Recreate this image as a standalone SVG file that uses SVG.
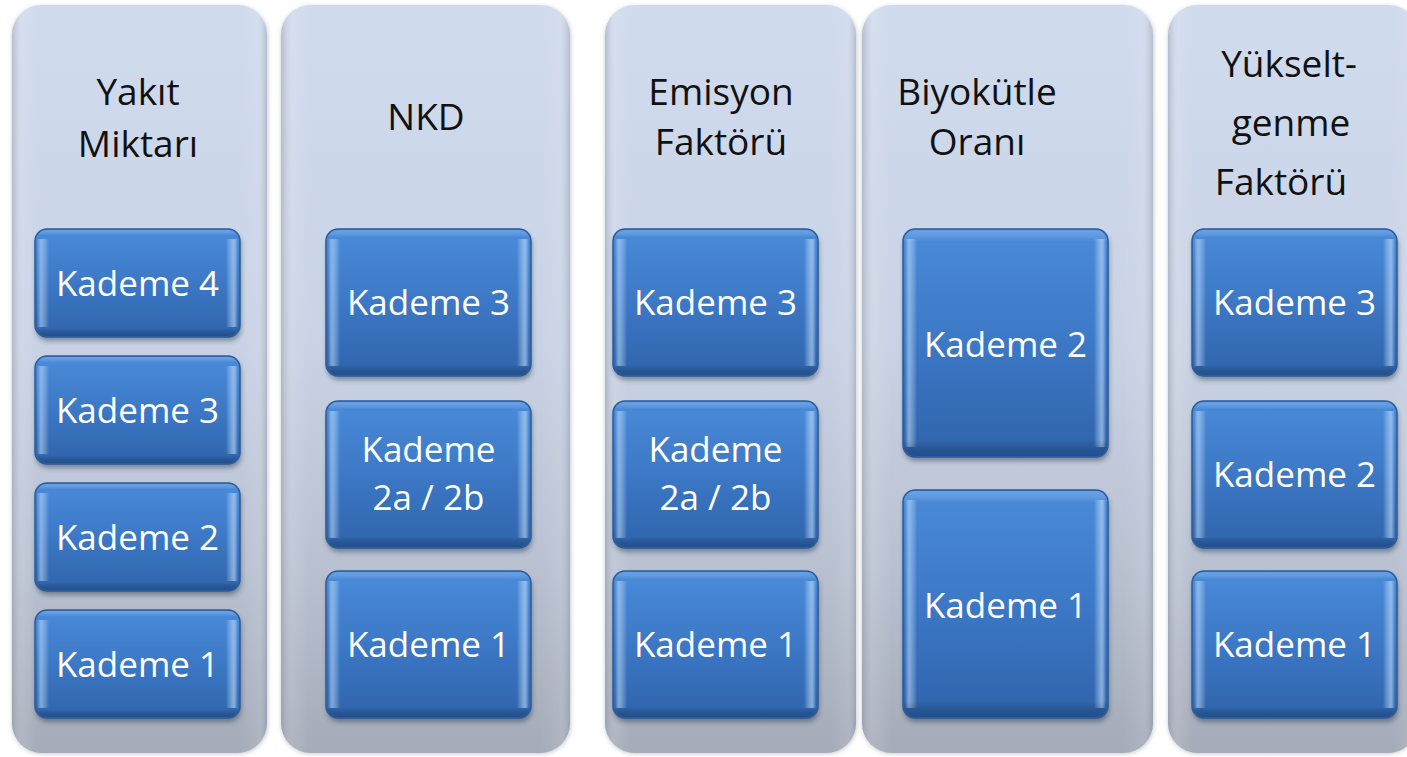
<svg xmlns="http://www.w3.org/2000/svg" width="1407" height="757" viewBox="0 0 1407 757">
  <defs>
    <!-- column panel fill: pale blue at top fading to grey -->
    <linearGradient id="panelFill" x1="0" y1="0" x2="0" y2="1">
      <stop offset="0" stop-color="#d0dbee"/>
      <stop offset="0.45" stop-color="#c9d3e5"/>
      <stop offset="0.75" stop-color="#b9c1d1"/>
      <stop offset="1" stop-color="#a5abb8"/>
    </linearGradient>
    <linearGradient id="panelEdge" x1="0" y1="0" x2="1" y2="0">
      <stop offset="0" stop-color="#7f8796" stop-opacity="0.35"/>
      <stop offset="0.04" stop-color="#ffffff" stop-opacity="0.12"/>
      <stop offset="0.1" stop-color="#ffffff" stop-opacity="0"/>
      <stop offset="0.9" stop-color="#ffffff" stop-opacity="0"/>
      <stop offset="0.96" stop-color="#ffffff" stop-opacity="0.08"/>
      <stop offset="1" stop-color="#7f8796" stop-opacity="0.35"/>
    </linearGradient>
    <!-- glossy blue tile -->
    <linearGradient id="tileFill" x1="0" y1="0" x2="0" y2="1">
      <stop offset="0" stop-color="#4a8bd9"/>
      <stop offset="0.5" stop-color="#3c78c6"/>
      <stop offset="1" stop-color="#2f64ab"/>
    </linearGradient>
    <linearGradient id="tileGloss" x1="0" y1="0" x2="1" y2="0">
      <stop offset="0" stop-color="#ffffff" stop-opacity="0"/>
      <stop offset="0.02" stop-color="#bfe0ff" stop-opacity="0.55"/>
      <stop offset="0.06" stop-color="#ffffff" stop-opacity="0"/>
      <stop offset="0.94" stop-color="#ffffff" stop-opacity="0"/>
      <stop offset="0.98" stop-color="#bfe0ff" stop-opacity="0.6"/>
      <stop offset="1" stop-color="#ffffff" stop-opacity="0"/>
    </linearGradient>
    <linearGradient id="tileShade" x1="0" y1="0" x2="0" y2="1">
      <stop offset="0" stop-color="#9cc7ff" stop-opacity="0.35"/>
      <stop offset="0.05" stop-color="#ffffff" stop-opacity="0"/>
      <stop offset="0.93" stop-color="#000000" stop-opacity="0"/>
      <stop offset="1" stop-color="#0b2a55" stop-opacity="0.35"/>
    </linearGradient>
    <filter id="soft" x="-10%" y="-10%" width="120%" height="120%">
      <feGaussianBlur stdDeviation="2.5"/>
    </filter>
    <filter id="panelShadow" x="-10%" y="-5%" width="120%" height="110%">
      <feGaussianBlur stdDeviation="2"/>
    </filter>
    <style>
      .panel { fill: url(#panelFill); }
      .panelEdge { fill: url(#panelEdge); }
      .pshadow { fill: #8a909c; opacity: 0.45; filter: url(#panelShadow); }
      .tile { fill: url(#tileFill); stroke: #2c5b98; stroke-width: 1.5; }
      .gloss { fill: url(#tileGloss); }
      .shade { fill: url(#tileShade); }
      .tshadow { fill: #1e3046; opacity: 0.45; filter: url(#soft); }
      .head { font-family: "Open Sans", "Noto Sans", sans-serif; font-size: 37px; fill: #111111; text-anchor: middle; }
      .lbl { font-family: "Open Sans", "Noto Sans", sans-serif; font-size: 35px; fill: #ffffff; text-anchor: middle; }
    </style>
    <!-- one reusable tile shape per size -->
    <g id="tileS">
      <rect class="tshadow" x="1" y="4" width="205" height="108" rx="12"/>
      <rect class="tile" x="0" y="0" width="205" height="108" rx="12"/>
      <rect class="gloss" x="2" y="10" width="201" height="88"/>
      <rect class="shade" x="1" y="1" width="203" height="106" rx="11"/>
    </g>
    <g id="tileM">
      <rect class="tshadow" x="1" y="4" width="205" height="147" rx="12"/>
      <rect class="tile" x="0" y="0" width="205" height="147" rx="12"/>
      <rect class="gloss" x="2" y="10" width="201" height="127"/>
      <rect class="shade" x="1" y="1" width="203" height="145" rx="11"/>
    </g>
    <g id="tileL">
      <rect class="tshadow" x="1" y="4" width="205" height="228" rx="12"/>
      <rect class="tile" x="0" y="0" width="205" height="228" rx="12"/>
      <rect class="gloss" x="2" y="10" width="201" height="208"/>
      <rect class="shade" x="1" y="1" width="203" height="226" rx="11"/>
    </g>
  </defs>

  <rect width="1407" height="757" fill="#ffffff"/>

  <!-- column 1: Yakıt Miktarı -->
  <g id="col-yakit">
    <rect class="pshadow" x="12" y="6" width="256" height="748" rx="30"/>
    <rect class="panel" x="12" y="5" width="255" height="748" rx="30"/>
    <rect class="panelEdge" x="12" y="5" width="255" height="748" rx="30"/>
    <text class="head" x="138" y="105">Yakıt</text>
    <text class="head" x="138" y="157">Miktarı</text>
  </g>
  <g id="yakit-k4"><use href="#tileS" x="35" y="229"/><text class="lbl" x="137.5" y="296">Kademe 4</text></g>
  <g id="yakit-k3"><use href="#tileS" x="35" y="356"/><text class="lbl" x="137.5" y="423">Kademe 3</text></g>
  <g id="yakit-k2"><use href="#tileS" x="35" y="483"/><text class="lbl" x="137.5" y="550">Kademe 2</text></g>
  <g id="yakit-k1"><use href="#tileS" x="35" y="610"/><text class="lbl" x="137.5" y="677">Kademe 1</text></g>

  <!-- column 2: NKD -->
  <g id="col-nkd">
    <rect class="pshadow" x="281" y="6" width="290" height="748" rx="30"/>
    <rect class="panel" x="281" y="5" width="289" height="748" rx="30"/>
    <rect class="panelEdge" x="281" y="5" width="289" height="748" rx="30"/>
    <text class="head" x="426" y="130">NKD</text>
  </g>
  <g id="nkd-k3"><use href="#tileM" x="326" y="229"/><text class="lbl" x="428.5" y="315">Kademe 3</text></g>
  <g id="nkd-k2"><use href="#tileM" x="326" y="401"/><text class="lbl" x="428.5" y="462">Kademe</text><text class="lbl" x="428.5" y="510">2a / 2b</text></g>
  <g id="nkd-k1"><use href="#tileM" x="326" y="571"/><text class="lbl" x="428.5" y="657">Kademe 1</text></g>

  <!-- column 3: Emisyon Faktörü -->
  <g id="col-emisyon">
    <rect class="pshadow" x="605" y="6" width="252" height="748" rx="30"/>
    <rect class="panel" x="605" y="5" width="251" height="748" rx="30"/>
    <rect class="panelEdge" x="605" y="5" width="251" height="748" rx="30"/>
    <text class="head" x="721" y="105">Emisyon</text>
    <text class="head" x="721" y="155">Faktörü</text>
  </g>
  <g id="emisyon-k3"><use href="#tileM" x="613" y="229"/><text class="lbl" x="715.5" y="315">Kademe 3</text></g>
  <g id="emisyon-k2"><use href="#tileM" x="613" y="401"/><text class="lbl" x="715.5" y="462">Kademe</text><text class="lbl" x="715.5" y="510">2a / 2b</text></g>
  <g id="emisyon-k1"><use href="#tileM" x="613" y="571"/><text class="lbl" x="715.5" y="657">Kademe 1</text></g>

  <!-- column 4: Biyokütle Oranı -->
  <g id="col-biyokutle">
    <rect class="pshadow" x="862" y="6" width="292" height="748" rx="30"/>
    <rect class="panel" x="862" y="5" width="291" height="748" rx="30"/>
    <rect class="panelEdge" x="862" y="5" width="291" height="748" rx="30"/>
    <text class="head" x="977" y="105">Biyokütle</text>
    <text class="head" x="977" y="155">Oranı</text>
  </g>
  <g id="biyokutle-k2"><use href="#tileL" x="903" y="229"/><text class="lbl" x="1005.5" y="357">Kademe 2</text></g>
  <g id="biyokutle-k1"><use href="#tileL" x="903" y="490"/><text class="lbl" x="1005.5" y="618">Kademe 1</text></g>

  <!-- column 5: Yükseltgenme Faktörü -->
  <g id="col-yukseltgenme">
    <rect class="pshadow" x="1168" y="6" width="250" height="748" rx="30"/>
    <rect class="panel" x="1168" y="5" width="250" height="748" rx="30"/>
    <rect class="panelEdge" x="1168" y="5" width="250" height="748" rx="30"/>
    <text class="head" x="1289" y="77">Yükselt-</text>
    <text class="head" x="1291" y="136">genme</text>
    <text class="head" x="1281" y="195">Faktörü</text>
  </g>
  <g id="yukseltgenme-k3"><use href="#tileM" x="1192" y="229"/><text class="lbl" x="1294.5" y="315">Kademe 3</text></g>
  <g id="yukseltgenme-k2"><use href="#tileM" x="1192" y="401"/><text class="lbl" x="1294.5" y="487">Kademe 2</text></g>
  <g id="yukseltgenme-k1"><use href="#tileM" x="1192" y="571"/><text class="lbl" x="1294.5" y="657">Kademe 1</text></g>

  <!-- no connectors in this chart -->
  <g id="connectors"/>
</svg>
